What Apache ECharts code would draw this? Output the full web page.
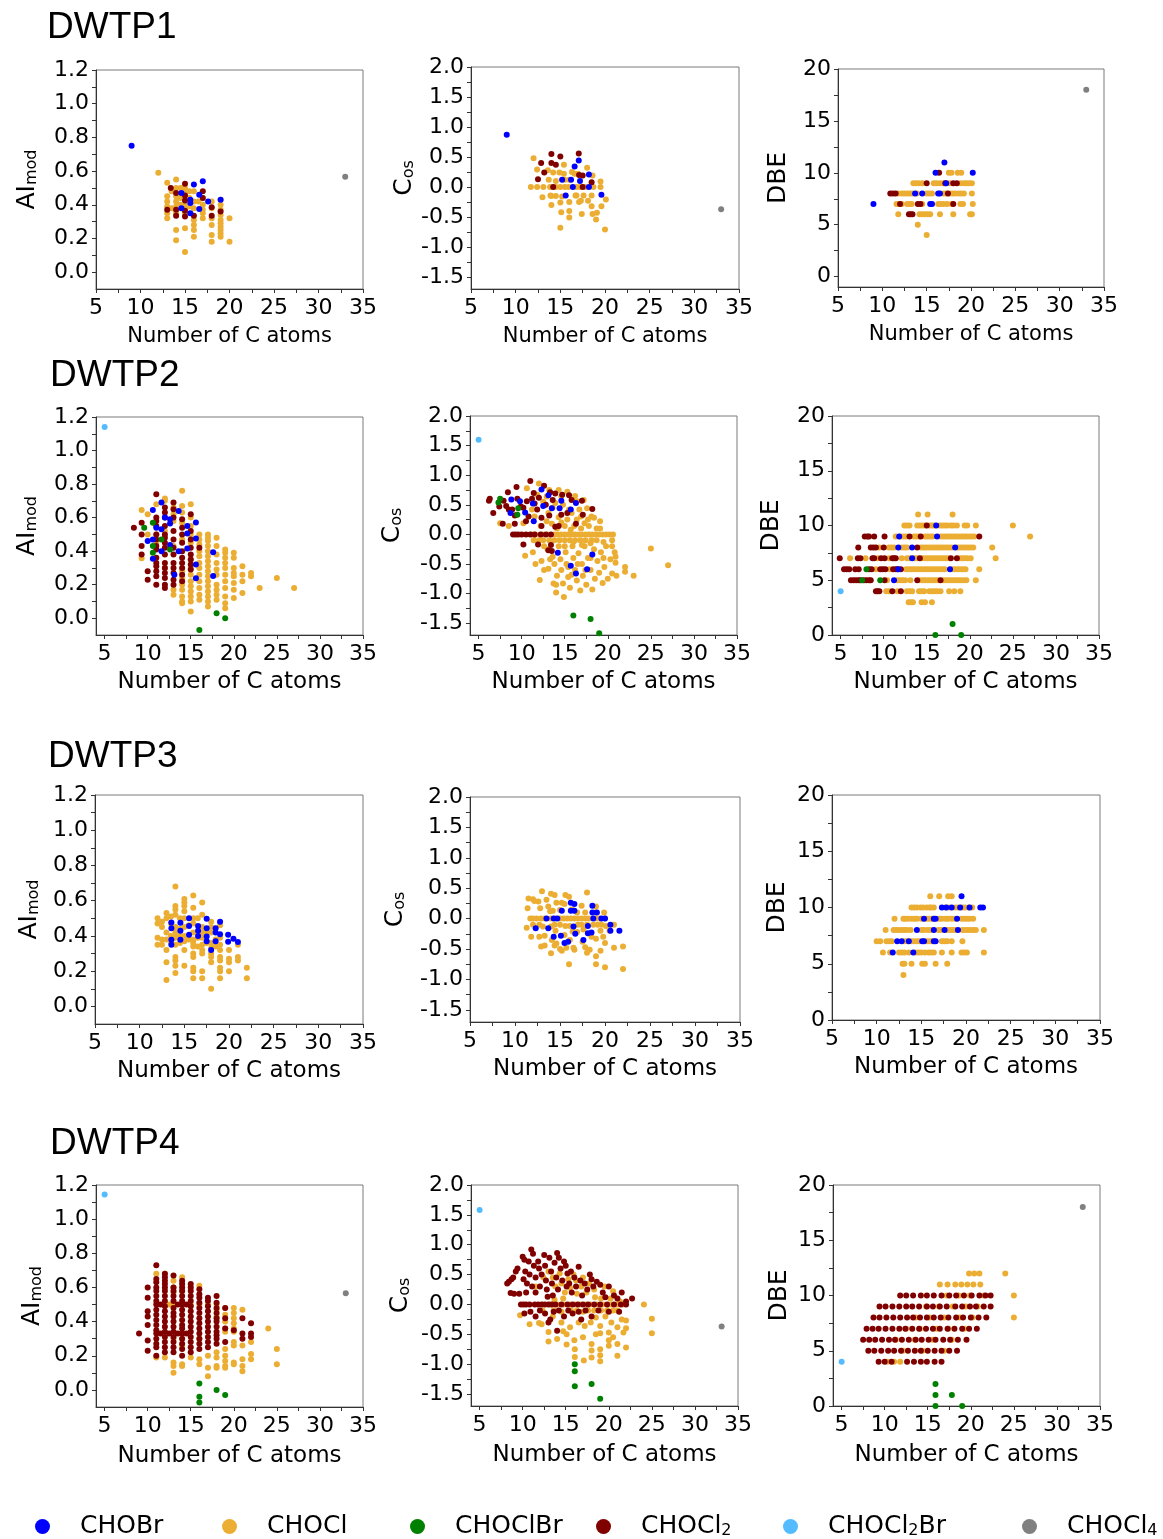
<!DOCTYPE html>
<html>
<head>
<meta charset="utf-8">
<script src="https://cdn.jsdelivr.net/npm/echarts@6/dist/echarts.min.js"></script>
<style>
  html, body { margin: 0; padding: 0; background: #fff; }
  #chart { width: 1163px; height: 1539px; }
</style>
</head>
<body>
<div id="chart"></div>
<script>
// ---------- categories and tick labels ----------
const plants = ['DWTP1', 'DWTP2', 'DWTP3', 'DWTP4'];
const classes = ['CHOBr', 'CHOCl', 'CHOClBr', 'CHOCl2', 'CHOCl2Br', 'CHOCl4'];
const xLabelValues = [5, 10, 15, 20, 25, 30, 35];
const xTickValues = [5, 7.5, 10, 12.5, 15, 17.5, 20, 22.5, 25, 27.5, 30, 32.5, 35];
const aiLabelValues = [0, 0.2, 0.4, 0.6, 0.8, 1.0, 1.2];
const aiTickValues = [0, 0.1, 0.2, 0.3, 0.4, 0.5, 0.6, 0.7, 0.8, 0.9, 1.0, 1.1, 1.2];
const cosLabelValues = [-1.5, -1.0, -0.5, 0, 0.5, 1.0, 1.5, 2.0];
const cosTickValues = [-1.5, -1.25, -1.0, -0.75, -0.5, -0.25, 0, 0.25, 0.5, 0.75, 1.0, 1.25, 1.5, 1.75, 2.0];
const dbeLabelValues = [0, 5, 10, 15, 20];
const dbeTickValues = [0, 2.5, 5, 7.5, 10, 12.5, 15, 17.5, 20];

// ---------- DWTP1 ----------
// AI_mod: [C number, [AI_mod values]]
const p1_ai_CHOCl = [
  [12, [0.59]], [13, [0.53, 0.45, 0.42, 0.39, 0.35, 0.32]], [13.5, [0.48, 0.38]],
  [14, [0.55, 0.5, 0.45, 0.42, 0.39, 0.35, 0.25, 0.19]], [14.5, [0.5, 0.44, 0.4]],
  [15, [0.5, 0.47, 0.4, 0.37, 0.35, 0.26, 0.12]], [15.5, [0.48, 0.44, 0.39]],
  [16, [0.48, 0.42, 0.38, 0.31, 0.28, 0.25, 0.21]], [16.5, [0.42]],
  [17, [0.44, 0.4, 0.37, 0.35, 0.32]], [18, [0.42, 0.38, 0.32, 0.28, 0.22, 0.18]],
  [19, [0.43, 0.4, 0.37, 0.34, 0.31, 0.29, 0.27, 0.25, 0.23, 0.21]], [20, [0.32, 0.18]]
];
const p1_ai_CHOCl2 = [
  [13, [0.37]], [13.4, [0.5]], [14, [0.47, 0.37, 0.335]], [15, [0.525, 0.455, 0.425, 0.365, 0.33]],
  [16, [0.335]], [17, [0.48, 0.44]], [18, [0.385, 0.335]], [19, [0.36]]
];
const p1_ai_CHOBr = [
  [9, [0.75]], [14.6, [0.47, 0.38]], [15.6, [0.43, 0.41, 0.35]], [16, [0.52]],
  [16.6, [0.46, 0.375]], [17, [0.54]], [17.6, [0.42]], [19, [0.43]]
];
const p1_ai_CHOCl4 = [[33, [0.566]]];

// C_os: [C number, C_os]
const p1_cos_CHOCl = [
  [12, 0.48], [12.4, 0.29], [11.7, 0], [12.4, 0], [13.1, 0], [13.85, 0], [13, -0.17], [13.7, 0.12],
  [13.6, 0.28], [14.2, 0.24], [14, -0.15], [14, -0.3], [14.5, -0.15], [15, -0.26], [15.1, -0.42],
  [15, -0.68], [15.4, 0.37], [15.4, 0.22], [15, 0], [15.5, 0], [16, -0.25], [16, -0.4], [16, -0.51],
  [16.8, -0.14], [16.8, 0], [16.6, 0.22], [17.1, -0.25], [17.4, -0.45], [18, 0.32], [18.1, -0.23],
  [18.5, -0.14], [18.5, -0.32], [18.6, -0.45], [18.6, 0.19], [19.1, -0.43], [19, -0.54], [19.5, 0.09],
  [19.5, 0], [19.6, -0.32], [20.1, -0.21], [20, -0.71], [18.7, 0], [17.8, 0], [17.2, 0], [15.9, 0],
  [14.5, 0], [16, 0.12], [17, 0.22], [15.5, 0.12], [16.7, -0.14], [17.6, -0.14], [15.2, -0.16],
  [14.5, 0.1], [13.9, -0.14], [14.9, 0.24], [16.3, 0.25], [17.3, -0.23]
];
const p1_cos_CHOCl2 = [
  [14, 0.55], [15, 0.51], [17.06, 0.56], [12.85, 0.4], [14, 0.4], [14.5, 0.37], [13.2, 0.24],
  [12.5, 0.13], [14.2, 0], [17.1, 0.2], [17.5, 0.19], [18.5, 0.08], [17.5, 0]
];
const p1_cos_CHOBr = [
  [9, 0.87], [16.6, 0.34], [17.06, 0.44], [18.2, 0.21], [19.6, -0.13], [15.2, 0.12], [16.2, 0.12],
  [17.2, 0.1], [15.6, -0.14], [16.4, 0], [18.2, 0]
];
const p1_cos_CHOCl4 = [[33, -0.37]];

// DBE: [DBE, [C numbers]]
const p1_dbe_CHOCl = [
  [10, [17.5, 17.8, 18.5, 18.9]],
  [9, [13.5, 13.8, 14.1, 14.5, 15.8, 16.1, 16.5, 16.9, 17.6, 18.8, 19.2, 19.5, 19.8, 20.1]],
  [8, [11.8, 12.2, 12.5, 12.8, 13.1, 13.4, 13.9, 15, 15.3, 15.6, 16.9, 17.2, 17.6, 17.9, 18.2, 18.6, 18.9, 19.2, 20.1]],
  [7, [11.6, 11.9, 12.2, 12.8, 13.1, 13.3, 14.5, 16.3, 16.6, 16.9, 17.3, 17.8, 18.8, 19.1, 20.2]],
  [6, [11.8, 14.2, 14.5, 14.8, 15.1, 15.4, 16.5, 18, 19.9, 20.1]],
  [5, [14]], [4, [15]]
];
const p1_dbe_CHOCl2 = [
  [10, [16.4]], [9, [15, 17.1, 18, 18.4]], [8, [10.9, 11.2, 11.5, 17.4]],
  [7, [12, 14, 14.3, 18]], [6, [13, 13.2, 13.4]]
];
const p1_dbe_CHOBr = [
  [11, [17]], [10, [16, 20.2]], [9, [17.2]], [8, [13.7, 14.5, 16.3, 16.5]], [7, [9, 15.4, 15.6]]
];
const p1_dbe_CHOCl4 = [[18, [33]]];

// ---------- DWTP2 ----------
const p2_ai_CHOCl = [
  [9.3, [0.645, 0.357]], [10, [0.62, 0.5]], [11, [0.68, 0.5, 0.45]], [12, [0.714, 0.7, 0.52, 0.3]],
  [13, [0.66, 0.62, 0.58, 0.43, 0.17, 0.14]],
  [14, [0.76, 0.67, 0.63, 0.57, 0.47, 0.28, 0.24, 0.2, 0.17, 0.13, 0.1, 0.09]],
  [15, [0.68, 0.6, 0.55, 0.5, 0.45, 0.35, 0.3, 0.26, 0.22, 0.19, 0.16, 0.13, 0.1, 0.04]],
  [16, [0.5, 0.47, 0.44, 0.4, 0.37, 0.33, 0.3, 0.26, 0.22, 0.18, 0.14, 0.11]],
  [17, [0.5, 0.48, 0.46, 0.43, 0.4, 0.37, 0.34, 0.31, 0.28, 0.25, 0.22, 0.19, 0.16, 0.13, 0.1, 0.07]],
  [18, [0.48, 0.43, 0.38, 0.33, 0.29, 0.26, 0.2, 0.17, 0.14, 0.11]],
  [19, [0.41, 0.39, 0.36, 0.33, 0.3, 0.26, 0.22, 0.18, 0.13, 0.09, 0.06]],
  [20, [0.39, 0.36, 0.3, 0.27, 0.25, 0.21, 0.17, 0.12]],
  [21, [0.31, 0.26, 0.22, 0.15]], [22, [0.27, 0.25]], [23, [0.18]], [25, [0.24]], [27, [0.18]]
];
const p2_ai_CHOCl2 = [
  [8.4, [0.54]], [9.3, [0.57, 0.5, 0.43, 0.38]], [10, [0.28, 0.23]],
  [11, [0.74, 0.6, 0.58, 0.55, 0.5, 0.47, 0.43, 0.41, 0.36, 0.33, 0.31, 0.28, 0.25, 0.2]],
  [12, [0.66, 0.63, 0.6, 0.55, 0.5, 0.48, 0.45, 0.42, 0.38, 0.33, 0.3, 0.27, 0.24, 0.2, 0.18]],
  [13, [0.69, 0.65, 0.6, 0.52, 0.47, 0.42, 0.38, 0.33, 0.3, 0.27, 0.23, 0.2]],
  [14, [0.59, 0.54, 0.5, 0.45, 0.4, 0.36, 0.33, 0.3, 0.26, 0.22]],
  [15, [0.62, 0.52, 0.47, 0.42, 0.38, 0.35, 0.32, 0.29]], [16, [0.42]]
];
const p2_ai_CHOBr = [
  [10, [0.46]], [10.6, [0.645, 0.47, 0.355]], [11, [0.54]], [11.6, [0.69, 0.53, 0.4]], [12, [0.6]],
  [12.6, [0.59, 0.565, 0.436]], [13.1, [0.26]], [13.6, [0.64, 0.4]], [14.6, [0.55, 0.506, 0.416]],
  [15.6, [0.571, 0.476, 0.32, 0.238]], [17.6, [0.393, 0.252]]
];
const p2_ai_CHOClBr = [
  [9.6, [0.54]], [10.6, [0.57, 0.43, 0.39]], [11.6, [0.47]], [12.6, [0.41]],
  [16, [-0.07]], [18, [0.03]], [19, [0]]
];
const p2_ai_CHOCl2Br = [[5, [1.14]]];

const p2_cos_CHOCl = [
  [7.5, 0.19], [8.5, 0.14], [9.4, 0.33], [10.2, 0.19], [10.6, 0.78], [11.2, 0.42], [11.5, 0.3], [12, 0.86],
  [11.8, 0.67], [12.5, 0.55], [12.9, 0.64], [12.9, 0.22], [13.2, 0.75], [13.6, 0.45], [13.9, 0.53],
  [14.3, 0.75], [14.3, 0.29], [14.6, 0.64], [14.8, 0.5], [15, 0.14], [15.3, 0.72], [15.3, 0.25],
  [15.5, 0.42], [15.8, 0.36], [16.2, 0.65], [16.4, 0.56], [16.4, 0.25], [16.7, 0.42], [16.9, 0.1],
  [17.2, 0.58], [17.3, 0.19], [17.6, 0.44], [17.8, 0.14], [18.1, 0.3], [18.4, 0.28], [18.7, 0.1],
  [19.1, 0.22], [19.1, 0.1], [12.2, 0.14], [13.5, 0.18], [14.1, 0.1], [16.1, 0.14], [15.7, 0.08],
  [14.6, 0.2], [13.1, 0.36], [16.9, 0.3], [17.7, 0.25],
  [11.2, 0], [11.6, 0], [12.4, 0], [13, 0], [13.8, 0], [14.2, 0], [14.6, 0], [15, 0], [15.4, 0], [15.8, 0],
  [16.2, 0], [16.6, 0], [17, 0], [17.4, 0], [17.8, 0], [18.2, 0], [18.6, 0], [19, 0], [19.4, 0], [19.8, 0],
  [20.2, 0], [20.6, 0],
  [11.4, -0.1], [12, -0.1], [12.5, -0.1], [13.2, -0.1], [13.8, -0.1], [14.4, -0.1], [15, -0.1],
  [15.6, -0.1], [16.2, -0.1], [16.8, -0.1], [17.4, -0.1], [18.1, -0.1], [18.7, -0.1],
  [10.4, -0.36], [11.3, -0.3], [11.6, -0.5], [12.3, -0.45], [12.1, -0.77], [12.6, -0.6], [13, -0.25],
  [13.1, -0.58], [13.6, -0.38], [13.7, -0.83], [13.8, -0.5], [14, -0.98], [14.1, -0.7], [14.3, -0.2],
  [14.5, -0.42], [14.6, -0.6], [14.8, -0.83], [14.9, -1.06], [15.1, -0.3], [15.2, -0.5], [15.4, -0.72],
  [15.6, -0.9], [15.9, -0.2], [16, -0.4], [16.2, -0.6], [16.4, -0.78], [16.6, -0.32], [16.8, -0.95],
  [17, -0.5], [17.1, -0.7], [17.3, -0.2], [17.5, -0.85], [17.7, -0.4], [18, -0.6], [18.2, -0.93],
  [18.4, -0.25], [18.5, -0.75], [18.8, -0.45], [19, -0.65], [19.2, -0.3], [19.4, -0.82], [19.6, -0.55],
  [19.8, -0.2], [20, -0.75], [20.3, -0.42], [20.5, -0.66], [20.8, -0.3], [20.9, -0.38], [20.9, -0.48],
  [21, -0.7], [22, -0.55], [22, -0.63], [23, -0.7], [25, -0.24], [27, -0.52], [16, -0.13], [17, -0.18],
  [18, -0.15], [19.5, -0.13], [20.5, -0.1], [20.5, -0.2], [15, -0.2], [12.6, -0.2], [13.3, -0.42],
  [16.5, -0.5], [18, -0.4], [19.5, -0.4], [15.4, -0.55], [17.4, -0.6], [14, -0.85], [15.8, -0.68]
];
const p2_cos_CHOCl2 = [
  [6.2, 0.57], [6.3, 0.6], [6.7, 0.36], [7.4, 0.47], [7.9, 0.57], [8.4, 0.71], [8.2, 0.48], [7.8, 0.18],
  [8.5, 0.42], [8.9, 0.42], [9.4, 0.8], [9.5, 0.6], [9.9, 0.47], [9.2, 0.18], [10.6, 0.56], [11, 0.9],
  [11.2, 0.6], [11.4, 0.7], [11.8, 0.42], [12.3, 0.28], [12.3, 0.14], [13.2, 0.32], [12.6, 0.82],
  [13.3, 0.71], [13.9, 0.69], [13.6, 0.58], [14.7, 0.67], [15.5, 0.66], [14.6, 0.33], [15.3, 0.36],
  [15.8, 0.58], [17, 0.57], [18.2, 0.43], [17.1, 0.33], [16.3, 0.18], [13.9, 0.13], [14.3, 0.14],
  [10.2, 0.45], [10.8, 0.3], [11.5, 0.52], [12, 0.62], [12.8, 0.5], [10.5, 0.22], [9.2, 0.32],
  [9, 0], [9.3, 0], [9.6, 0], [10, 0], [10.5, 0], [11, 0], [11.5, 0], [12.2, 0], [12.8, 0], [13.4, 0],
  [10.2, -0.17], [11.9, -0.17], [13.1, -0.27], [13.5, -0.28], [13.4, -0.18]
];
const p2_cos_CHOBr = [
  [8.8, 0.59], [9.8, 0.56], [8.7, 0.36], [10.4, 0.37], [11.3, 0.52], [11.4, 0.22], [12.3, 0.76],
  [12.5, 0.48], [13.1, 0.66], [13.5, 0.44], [14.6, 0.57], [14.4, 0.44], [16.3, 0.53], [15.7, 0.42],
  [14.2, -0.31], [15.7, -0.53], [16.3, -0.66], [17.6, -0.59], [18.2, -0.34]
];
const p2_cos_CHOClBr = [
  [7.3, 0.54], [7.5, 0.6], [9.5, 0.33], [9.6, 0.44], [16, -1.37], [18, -1.43], [19, -1.67]
];
const p2_cos_CHOCl2Br = [[5, 1.6]];

const p2_dbe_CHOCl = [
  [11, [14, 15.1, 18]],
  [10, [12.4, 12.7, 13, 13.9, 14.2, 14.5, 14.8, 15.3, 15.6, 15.9, 16.5, 16.8, 17.1, 17.4, 17.8, 18.1, 18.5, 19.4, 19.7, 20.7, 25]],
  [9, [11.4, 12, 12.3, 12.6, 13.5, 13.8, 14.1, 14.8, 15.1, 15.4, 15.7, 16.6, 16.9, 17.2, 17.5, 17.8, 18.1, 18.4, 18.7, 19, 19.3, 19.6, 19.9, 20.2, 20.5, 27]],
  [8, [9.5, 10.6, 10.9, 11.2, 12.1, 12.4, 12.7, 14.3, 14.6, 14.9, 15.2, 15.5, 15.8, 16.1, 16.4, 16.7, 17, 17.3, 17.6, 17.9, 18.6, 18.9, 19.2, 19.5, 19.8, 20.1, 20.4, 22.6]],
  [7, [6.1, 7.9, 9.3, 10.6, 12.1, 12.7, 13, 13.6, 13.9, 14.5, 14.8, 15.1, 15.4, 15.7, 16, 16.3, 16.6, 16.9, 17.2, 17.5, 18.8, 19.1, 19.4, 19.7, 20.1, 23]],
  [6, [9.1, 10.7, 12.6, 12.9, 13.2, 13.5, 13.8, 14.1, 14.4, 14.7, 15, 15.3, 15.6, 15.9, 16.2, 16.5, 16.8, 17.1, 18, 18.3, 18.6, 18.9, 19.2, 19.5, 21.1]],
  [5, [10.4, 11.6, 11.9, 12.2, 12.5, 13.1, 14.2, 14.5, 14.8, 15.1, 15.4, 15.7, 16, 16.3, 16.9, 17.2, 17.5, 17.8, 18.1, 18.4, 18.7, 19, 19.3, 19.6, 20.7]],
  [4, [10.3, 10.6, 11.6, 12.7, 13, 13.3, 14.1, 14.4, 14.7, 15.3, 15.6, 15.9, 16.2, 16.6, 17.6, 18.2, 18.9]],
  [3, [12.9, 13.2, 13.4, 14.4, 14.8, 15.6]]
];
const p2_dbe_CHOCl2 = [
  [10, [15]], [9, [7.8, 8.1, 8.3, 8.9, 10.1, 13, 14.3, 21.1]], [8, [7.05, 8.5, 8.8, 9.1, 10, 13.9]],
  [7, [4.9, 7, 7.3, 8.7, 8.9, 9.7, 10.1, 11, 11.2, 11.4, 14.2, 17.8, 18.5]],
  [6, [5.4, 5.7, 6, 6.7, 7.1, 8.3, 8.6, 9.6, 9.9, 10.2, 11.1, 11.4, 11.6, 12]],
  [5, [6.2, 6.5, 6.8, 7.1, 7.3, 7.7, 8, 8.3, 8.5, 10.1, 13.9, 16.6]], [4, [9.1, 9.3, 9.5, 11, 12]]
];
const p2_dbe_CHOBr = [
  [10, [16.1]], [9, [11.8, 16.2]], [8, [11.7, 13.3, 18.3]], [7, [13.3]], [6, [11.7, 17.7]], [5, [11.2]]
];
const p2_dbe_CHOClBr = [[6, [8]], [5, [7.5, 9.6]], [1, [18]], [0, [16, 19]]];
const p2_dbe_CHOCl2Br = [[4, [5]]];

// ---------- DWTP3 ----------
const p3_ai_CHOCl = [
  [12, [0.5, 0.47, 0.39, 0.35]], [12.5, [0.48, 0.45, 0.38, 0.35]],
  [13, [0.53, 0.5, 0.42, 0.38, 0.32, 0.25, 0.15]], [13.5, [0.51, 0.47, 0.4, 0.36]],
  [14, [0.68, 0.57, 0.55, 0.52, 0.45, 0.42, 0.39, 0.35, 0.28, 0.26, 0.23, 0.19]], [14.5, [0.5, 0.44, 0.4, 0.36]],
  [15, [0.61, 0.59, 0.57, 0.54, 0.5, 0.45, 0.4, 0.37, 0.32, 0.23]], [15.5, [0.46, 0.38]],
  [16, [0.63, 0.56, 0.5, 0.47, 0.42, 0.38, 0.36, 0.34, 0.3, 0.28, 0.22, 0.2, 0.16]], [16.5, [0.5, 0.39, 0.34]],
  [17, [0.59, 0.52, 0.45, 0.42, 0.39, 0.35, 0.32, 0.3, 0.2, 0.16]], [17.5, [0.42, 0.36]],
  [18, [0.48, 0.45, 0.42, 0.36, 0.33, 0.3, 0.28, 0.25, 0.1]], [18.5, [0.38, 0.34]],
  [19, [0.46, 0.39, 0.35, 0.32, 0.28, 0.26, 0.22, 0.2, 0.16]], [20, [0.32, 0.27, 0.25, 0.2]],
  [21, [0.35, 0.28, 0.26]], [22, [0.22, 0.16]]
];
const p3_ai_CHOBr = [
  [13.55, [0.476, 0.444, 0.378, 0.35]], [14.56, [0.475, 0.43, 0.378]], [15.53, [0.5, 0.457, 0.406]],
  [16.54, [0.457, 0.43, 0.4]], [17.5, [0.497, 0.444, 0.397, 0.37]], [18, [0.32]],
  [18.5, [0.444, 0.42, 0.37]], [19, [0.48, 0.41]], [19.9, [0.406, 0.367]], [20.5, [0.384]], [21, [0.365]]
];

const p3_cos_CHOCl = [
  [13, 0.45], [11.5, 0.33], [12.15, 0.29], [12.6, 0.28], [14, 0.41], [14.4, 0.39], [15.6, 0.39], [16, 0.36],
  [18, 0.43], [13.5, 0.31], [13.7, 0.2], [12.8, 0.17], [11.4, 0.17], [15.2, 0.26], [15.5, 0.24], [16.3, 0.15],
  [17.4, 0.21], [19, 0.2], [19.9, 0.1], [15, 0.14], [14.2, 0.13], [13.9, 0.12], [17.8, 0.1], [18.9, 0.1],
  [16.9, 0.1], [14.6, 0.26], [12, 0.32],
  [11.7, 0], [12, 0], [12.4, 0], [12.9, 0], [13.3, 0], [14, 0], [14.5, 0], [15, 0], [15.4, 0], [15.8, 0],
  [16.2, 0], [16.6, 0], [17, 0], [17.4, 0], [17.8, 0], [18.2, 0], [19, 0], [19.4, 0], [20, 0],
  [11.3, -0.15], [12, -0.1], [12.7, -0.1], [13.1, -0.13], [14, -0.13], [14.4, -0.1], [15, -0.1], [15.6, -0.12],
  [16.1, -0.12], [17, -0.1], [17.4, -0.1], [18, -0.1], [18.7, -0.1], [19.2, -0.1], [19.6, -0.1], [20.1, -0.12],
  [21, -0.1],
  [11.8, -0.3], [12.7, -0.3], [13.3, -0.28], [14.5, -0.2], [15.5, -0.27], [16.4, -0.21], [16.9, -0.22],
  [17.6, -0.18], [18.5, -0.3], [19.5, -0.2], [19.8, -0.3], [20.5, -0.2], [14.1, -0.35], [16.1, -0.35],
  [17.5, -0.38], [19, -0.33],
  [12.9, -0.46], [13.3, -0.44], [14, -0.57], [14.6, -0.41], [14.4, -0.44], [15.2, -0.53], [15.7, -0.48],
  [16.5, -0.48], [16.6, -0.51], [18, -0.56], [18.3, -0.51], [17.8, -0.47], [19, -0.62], [19, -0.75],
  [19.5, -0.53], [20, -0.4], [20, -0.8], [21, -0.48], [22, -0.46], [22, -0.83], [16, -0.75], [15, -0.5]
];
const p3_cos_CHOBr = [
  [16.2, 0.26], [16.6, 0.24], [16.2, 0.13], [16.6, 0.13], [18.6, 0.21], [18.6, 0.1], [19.1, 0.1], [15.2, 0.13],
  [12.3, -0.16], [13.7, -0.16], [14.3, -0.3], [15.1, -0.28], [15.5, -0.4], [15.9, -0.38], [16.5, -0.13],
  [16.7, -0.25], [17.6, -0.35], [18.1, -0.24], [18.5, -0.23], [20.6, -0.1], [20.6, -0.2], [21.6, -0.2],
  [18.1, -0.12], [13.5, 0], [14.3, 0], [14.7, 0], [18.7, 0], [19.6, 0], [20, 0]
];

const p3_dbe_CHOCl = [
  [11, [16, 17, 18, 18.4]],
  [10, [13.9, 14.2, 14.5, 14.9, 15.2, 15.6, 15.9, 16.1, 16.4, 17.7, 18.1, 18.8, 19.1, 19.6, 19.9, 20.3, 20.7]],
  [9, [12, 13, 13.2, 13.5, 13.9, 14.2, 14.5, 15, 15.6, 15.9, 16.2, 17, 17.3, 17.7, 18, 18.4, 18.8, 19.5, 19.8, 20.1, 20.4, 20.8]],
  [8, [11, 11.9, 12.2, 12.5, 12.8, 13.1, 13.4, 13.8, 15, 15.3, 15.7, 16, 16.9, 17.2, 17.9, 18.2, 18.5, 18.8, 19.6, 19.9, 20.2, 20.5, 20.8, 21.1, 22]],
  [7, [10, 10.4, 11.1, 11.4, 11.7, 13.1, 13.4, 13.9, 14.2, 14.5, 14.8, 15.6, 15.9, 16.2, 17.3, 17.6, 17.9, 18.4, 19.6]],
  [6, [10.7, 11.5, 12.5, 12.8, 13.1, 13.6, 14.4, 14.7, 15, 15.4, 15.8, 16.1, 16.4, 17.3, 18.4, 19.5, 19.8, 20.1, 22]],
  [5, [12.9, 13.1, 13.9, 15.1, 15.4, 16.6, 17.9]], [4, [13]]
];
const p3_dbe_CHOBr = [
  [11, [19.5]], [10, [17.3, 17.8, 18.4, 19.35, 20.4, 21.6, 21.9]], [9, [15.3, 16.4, 16.6, 19]],
  [8, [14.5, 16.4, 17.6, 19.1]], [7, [12.3, 12.8, 13.6, 15.1, 15.3, 16.4, 16.6]], [6, [11.8, 14.1]]
];

// ---------- DWTP4 ----------
const p4_ai_CHOCl = [
  [11, [0.68, 0.19]], [12, [0.68, 0.19]], [12.5, [0.5]], [13, [0.64, 0.6, 0.57, 0.5, 0.3, 0.16, 0.14, 0.1]],
  [14, [0.66, 0.58, 0.3, 0.26, 0.15, 0.14]], [15, [0.5, 0.19]], [16, [0.61, 0.5, 0.3, 0.18, 0.15]],
  [17, [0.5, 0.2, 0.13, 0.08]], [18, [0.5, 0.47, 0.43, 0.22, 0.19, 0.14, 0.13]],
  [19, [0.48, 0.44, 0.4, 0.36, 0.34, 0.24, 0.2, 0.17, 0.14, 0.13]],
  [20, [0.48, 0.45, 0.42, 0.39, 0.36, 0.34, 0.28, 0.26, 0.16, 0.15]],
  [21, [0.47, 0.26, 0.18, 0.14, 0.11]], [22, [0.28, 0.21, 0.18]], [24, [0.36]], [25, [0.24, 0.15]]
];
const p4_ai_CHOCl2 = [
  [9, [0.33]], [10, [0.6, 0.54, 0.46, 0.43, 0.38, 0.29, 0.23]],
  [11, [0.73, 0.65, 0.63, 0.6, 0.58, 0.55, 0.52, 0.5, 0.47, 0.44, 0.41, 0.38, 0.35, 0.33, 0.3, 0.27, 0.25, 0.2]],
  [11.5, [0.5, 0.33]],
  [12, [0.68, 0.66, 0.64, 0.62, 0.6, 0.58, 0.55, 0.52, 0.49, 0.46, 0.43, 0.4, 0.37, 0.34, 0.31, 0.28, 0.25, 0.22]],
  [12.5, [0.33]],
  [13, [0.67, 0.6, 0.58, 0.55, 0.52, 0.48, 0.45, 0.43, 0.4, 0.37, 0.34, 0.31, 0.28, 0.25, 0.22]],
  [13.5, [0.5, 0.33]],
  [14, [0.64, 0.62, 0.6, 0.58, 0.55, 0.52, 0.5, 0.47, 0.44, 0.41, 0.38, 0.36, 0.33, 0.3, 0.27, 0.24, 0.2]],
  [14.5, [0.5, 0.33]],
  [15, [0.62, 0.6, 0.58, 0.55, 0.52, 0.49, 0.46, 0.43, 0.4, 0.37, 0.34, 0.31, 0.28, 0.25, 0.22]],
  [16, [0.59, 0.56, 0.54, 0.51, 0.48, 0.45, 0.42, 0.39, 0.36, 0.33, 0.3, 0.27, 0.24]],
  [17, [0.54, 0.52, 0.49, 0.46, 0.43, 0.4, 0.37, 0.34, 0.31, 0.28, 0.25]],
  [18, [0.55, 0.51, 0.48, 0.45, 0.42, 0.4, 0.37, 0.34, 0.32, 0.3, 0.27]],
  [19, [0.48, 0.42, 0.36, 0.28]], [20, [0.35]], [21, [0.42, 0.33, 0.3]], [22, [0.39, 0.33, 0.31]]
];
const p4_ai_CHOClBr = [[16, [0.037, -0.04, -0.074]], [18, [0]], [19, [-0.03]]];
const p4_ai_CHOCl2Br = [[5, [1.144]]];
const p4_ai_CHOCl4 = [[33, [0.566]]];

const p4_cos_CHOCl = [
  [9.7, -0.18], [10.8, -0.33], [11.9, -0.31], [13, -0.46], [13, -0.62], [14, -0.58], [15.1, -0.67], [15.1, -0.5],
  [16.05, -0.75], [16.05, -0.88], [17.1, -0.94], [18, -0.66], [18, -0.77], [18, -0.89], [19, -0.75], [19, -0.85],
  [19, -0.95], [19, -0.48], [19, -0.36], [20, -0.6], [20, -0.69], [20, -0.47], [21, -0.66], [21, -0.86],
  [21, -0.38], [22, -0.27], [22, -0.4], [22, -0.72], [21.7, -0.47], [24.07, 0], [25, -0.24], [25, -0.48],
  [11.5, 0.3], [12.4, 0.45], [13, 0.55], [13.5, 0.45], [13.8, 0.3], [14.3, 0.52], [14.5, 0.35], [14.9, 0.2],
  [15.3, 0.42], [15.5, 0.28], [15.9, 0.5], [16.2, 0.4], [16.3, 0.18], [16.8, 0.3], [17, 0.45], [17.4, 0.2],
  [17.7, 0.35], [18.3, 0.25], [18.4, 0.12], [19.1, 0.1], [19.5, 0.3], [20.2, 0.1], [20.5, 0.22], [21.3, 0.05],
  [14.7, 0.1], [13.7, 0.08],
  [12.4, 0], [13.2, 0], [14, 0], [14.8, 0], [15.5, 0], [16.1, 0], [16.7, 0], [17.3, 0], [17.9, 0], [18.6, 0],
  [19.3, 0], [20, 0], [20.3, 0], [20.9, 0], [21.7, 0],
  [12.3, -0.1], [13.6, -0.1], [14.5, -0.12], [15.6, -0.1], [16.3, -0.1], [17, -0.12], [17.6, -0.1], [18.3, -0.1],
  [19.1, -0.1], [19.8, -0.1], [20.5, -0.1], [21, -0.1],
  [12.2, -0.33], [13.5, -0.2], [14.5, -0.3], [15.5, -0.38], [16.5, -0.3], [17.2, -0.36], [17.9, -0.3],
  [18.5, -0.22], [19.6, -0.2], [20.3, -0.3], [21.5, -0.25], [16, -0.6], [17, -0.55], [18.5, -0.5],
  [20.5, -0.55], [14.7, -0.45]
];
const p4_cos_CHOCl2 = [
  [8.2, 0.35], [8.4, 0.38], [8.7, 0.42], [8.9, 0.45], [9.2, 0.55], [9.4, 0.6], [9.6, 0.18], [9, 0.18],
  [8.6, 0.19], [10, 0.8], [10.2, 0.75], [10.3, 0.55], [10.1, 0.42], [10.5, 0.35], [10.4, 0.2], [10.7, 0.72],
  [10.8, 0.5], [11, 0.92], [11.2, 0.85], [11.3, 0.65], [11.1, 0.3], [11.5, 0.45], [11.5, 0.2], [11.8, 0.72],
  [11.9, 0.6], [12, 0.3], [12.2, 0.5], [12.5, 0.83], [12.6, 0.65], [12.7, 0.4], [12.8, 0.25], [12.9, 0.13],
  [13.1, 0.78], [13.3, 0.55], [13.4, 0.35], [13.5, 0.15], [13.7, 0.7], [13.9, 0.45], [14, 0.86], [14.2, 0.78],
  [14.1, 0.25], [14.4, 0.6], [14.6, 0.4], [14.8, 0.72], [15, 0.65], [15.1, 0.3], [15.2, 0.52], [15.4, 0.35],
  [15.6, 0.55], [15.7, 0.2], [16, 0.45], [16.2, 0.3], [16.5, 0.63], [16.7, 0.4], [16.9, 0.15], [17.2, 0.35],
  [17.5, 0.25], [17.8, 0.5], [18, 0.42], [18.2, 0.3], [18.6, 0.38], [19, 0.33], [19.3, 0.2], [19.6, 0.12],
  [20, 0.3], [20.6, 0.15], [21, 0.1], [21.5, 0.2], [22, 0.05], [22.7, 0.1],
  [9.8, 0], [10.1, 0], [10.4, 0], [10.8, 0], [11.4, 0], [11.8, 0], [12.2, 0], [12.6, 0], [13, 0], [13.4, 0],
  [13.8, 0], [14.5, 0], [15.2, 0], [15.8, 0], [16.4, 0], [17, 0], [17.6, 0], [18.3, 0], [19, 0], [19.8, 0],
  [20.6, 0], [21.4, 0], [22, 0],
  [10.2, -0.15], [10.9, -0.12], [11.5, -0.2], [12, -0.1], [12.6, -0.15], [13, -0.3], [13.2, -0.25],
  [13.6, -0.12], [14, -0.44], [14.2, -0.1], [14.8, -0.2], [15.3, -0.1], [15.8, -0.15], [16.5, -0.12],
  [16.8, -0.25], [17.3, -0.1], [18, -0.2], [18.8, -0.1], [20, -0.12], [21.2, -0.12]
];
const p4_cos_CHOClBr = [[16.05, -1.0], [16.05, -1.12], [16.05, -1.37], [18, -1.33], [19, -1.58]];
const p4_cos_CHOCl2Br = [[5, 1.58]];
const p4_cos_CHOCl4 = [[33.1, -0.37]];

const p4_dbe_CHOCl = [
  [12, [19.8, 20.4, 21, 24]], [11, [16.4, 17.3, 18.2, 18.9, 19.6, 20.3, 21.1]],
  [10, [17.2, 18.6, 19.9, 21.5, 25]], [9, [14.8, 16.3, 17.9, 19.4, 20.8]],
  [8, [13.6, 15.2, 16.9, 18.7, 20.2, 25]], [7, [12.5, 14.1, 16, 17.4, 19.2]],
  [6, [11.3, 13.5, 15.6, 17.8]], [5, [12.1, 14.4, 16.9]], [4, [10.3, 11.1, 11.8]]
];
const p4_dbe_CHOCl2 = [
  [10, [11.8, 12.5, 13.3, 14.2, 14.9, 15.7, 16.6, 17.5, 18.3, 19.2, 20.1, 21, 21.7, 22.3]],
  [9, [9.4, 10.1, 10.9, 11.7, 12.5, 13.2, 14, 14.9, 15.6, 16.4, 17.2, 18.2, 19, 19.9, 20.6, 21.5, 22.3]],
  [8, [8.7, 9.4, 10.2, 11, 11.8, 12.6, 13.3, 14.1, 14.9, 15.7, 16.5, 17.4, 18.3, 19.1, 20, 20.9, 21.8]],
  [7, [7.9, 8.6, 9.3, 10.1, 10.9, 11.7, 12.4, 13.2, 14, 14.8, 15.6, 16.4, 17.3, 18.1, 19, 19.8, 20.7]],
  [6, [7.5, 8.2, 8.9, 9.7, 10.5, 11.2, 12, 12.8, 13.6, 14.3, 15.1, 15.9, 16.8, 17.6, 18.5, 19.5]],
  [5, [8.1, 8.8, 9.6, 10.4, 11.1, 11.9, 12.7, 13.5, 14.2, 15, 15.8, 16.6, 17.5, 18.4]],
  [4, [9.3, 10, 10.8, 12.6, 13.4, 14.2, 14.9, 15.8, 16.6]]
];
const p4_dbe_CHOClBr = [[2, [15.9]], [1, [15.9, 17.8]], [0, [15.9, 19]]];
const p4_dbe_CHOCl2Br = [[4, [5]]];
const p4_dbe_CHOCl4 = [[18, [33]]];

// ---------- reshaping helpers ----------
function fromCols(cols) { const out = []; cols.forEach(([x, ys]) => ys.forEach(y => out.push([x, y]))); return out; }
function fromRows(rows) { const out = []; rows.forEach(([y, xs]) => xs.forEach(x => out.push([x, y]))); return out; }
function fromPairs(pairs) { return pairs.map(p => [p[0], p[1]]); }

// ---------- panel layout ----------
const GRID_RECTS = [
  [[96, 70, 267, 219], [471, 67, 268, 222], [838, 69, 266, 218]],
  [[96, 417, 267, 218], [470, 416, 267, 219], [832, 416, 267, 219]],
  [[95, 795, 268, 229], [470, 797, 270, 225], [832, 795, 268, 225]],
  [[96, 1185, 267, 222], [471, 1185, 267, 221], [833, 1185, 267, 221]]
];
const X_MIN = [5, 4, 5, 4];
const TITLE_POS = [[47, 9], [50, 357], [48, 738], [50, 1125]];
const X_NAME_SIZE = [21, 23, 23, 23];
const X_NAME_GAP = [37, 36, 36, 38];
const Y_NAME_GAP = [[56, 53, 47], [56, 65, 48], [53, 62, 42], [51, 58, 41]];

const PANELS = [
  { row: 0, kind: 'ai', data: { CHOCl: fromCols(p1_ai_CHOCl), CHOCl2: fromCols(p1_ai_CHOCl2), CHOBr: fromCols(p1_ai_CHOBr), CHOCl4: fromCols(p1_ai_CHOCl4) } },
  { row: 0, kind: 'cos', data: { CHOCl: fromPairs(p1_cos_CHOCl), CHOCl2: fromPairs(p1_cos_CHOCl2), CHOBr: fromPairs(p1_cos_CHOBr), CHOCl4: fromPairs(p1_cos_CHOCl4) } },
  { row: 0, kind: 'dbe', yMin: -1, data: { CHOCl: fromRows(p1_dbe_CHOCl), CHOCl2: fromRows(p1_dbe_CHOCl2), CHOBr: fromRows(p1_dbe_CHOBr), CHOCl4: fromRows(p1_dbe_CHOCl4) } },
  { row: 1, kind: 'ai', data: { CHOCl: fromCols(p2_ai_CHOCl), CHOCl2: fromCols(p2_ai_CHOCl2), CHOBr: fromCols(p2_ai_CHOBr), CHOClBr: fromCols(p2_ai_CHOClBr), CHOCl2Br: fromCols(p2_ai_CHOCl2Br) } },
  { row: 1, kind: 'cos', data: { CHOCl: fromPairs(p2_cos_CHOCl), CHOCl2: fromPairs(p2_cos_CHOCl2), CHOBr: fromPairs(p2_cos_CHOBr), CHOClBr: fromPairs(p2_cos_CHOClBr), CHOCl2Br: fromPairs(p2_cos_CHOCl2Br) } },
  { row: 1, kind: 'dbe', data: { CHOCl: fromRows(p2_dbe_CHOCl), CHOCl2: fromRows(p2_dbe_CHOCl2), CHOBr: fromRows(p2_dbe_CHOBr), CHOClBr: fromRows(p2_dbe_CHOClBr), CHOCl2Br: fromRows(p2_dbe_CHOCl2Br) } },
  { row: 2, kind: 'ai', data: { CHOCl: fromCols(p3_ai_CHOCl), CHOBr: fromCols(p3_ai_CHOBr) } },
  { row: 2, kind: 'cos', data: { CHOCl: fromPairs(p3_cos_CHOCl), CHOBr: fromPairs(p3_cos_CHOBr) } },
  { row: 2, kind: 'dbe', data: { CHOCl: fromRows(p3_dbe_CHOCl), CHOBr: fromRows(p3_dbe_CHOBr) } },
  { row: 3, kind: 'ai', data: { CHOCl: fromCols(p4_ai_CHOCl), CHOCl2: fromCols(p4_ai_CHOCl2), CHOClBr: fromCols(p4_ai_CHOClBr), CHOCl2Br: fromCols(p4_ai_CHOCl2Br), CHOCl4: fromCols(p4_ai_CHOCl4) } },
  { row: 3, kind: 'cos', data: { CHOCl: fromPairs(p4_cos_CHOCl), CHOCl2: fromPairs(p4_cos_CHOCl2), CHOClBr: fromPairs(p4_cos_CHOClBr), CHOCl2Br: fromPairs(p4_cos_CHOCl2Br), CHOCl4: fromPairs(p4_cos_CHOCl4) } },
  { row: 3, kind: 'dbe', data: { CHOCl: fromRows(p4_dbe_CHOCl), CHOCl2: fromRows(p4_dbe_CHOCl2), CHOClBr: fromRows(p4_dbe_CHOClBr), CHOCl2Br: fromRows(p4_dbe_CHOCl2Br), CHOCl4: fromRows(p4_dbe_CHOCl4) } }
];

// ---------- styling ----------
const FONT = '"DejaVu Sans", "Liberation Sans", sans-serif';
const COLORS = {
  CHOBr: '#0000FF', CHOCl: '#EBAE33', CHOClBr: '#008000',
  CHOCl2: '#800000', CHOCl2Br: '#55BBFF', CHOCl4: '#808080'
};
const DRAW_ORDER = ['CHOCl', 'CHOCl2', 'CHOBr', 'CHOClBr', 'CHOCl2Br', 'CHOCl4'];
const AXIS_COLOR = '#333';

const Y_SPEC = {
  ai:  { min: -0.1, max: 1.2, labels: aiLabelValues, ticks: aiTickValues, fmt: v => v.toFixed(1), name: '{m|AI}{s|mod}' },
  cos: { min: -1.7, max: 2.0, labels: cosLabelValues, ticks: cosTickValues, fmt: v => v.toFixed(1), name: '{m|C}{s|os}' },
  dbe: { min: 0, max: 20, labels: dbeLabelValues, ticks: dbeTickValues, fmt: v => String(v), name: '{m|DBE}' }
};

const grids = [], xAxes = [], yAxes = [], series = [];
PANELS.forEach((p, i) => {
  const col = i % 3;
  const [l, t, w, h] = GRID_RECTS[p.row][col];
  grids.push({ left: l, top: t, width: w, height: h, show: true, borderColor: '#7a7a7a', borderWidth: 1, outerBoundsMode: 'none' });
  xAxes.push({
    type: 'value', gridIndex: i, min: X_MIN[p.row], max: 35,
    axisLine: { show: true, onZero: false, lineStyle: { color: AXIS_COLOR, width: 1 } },
    axisTick: { show: true, length: 4, customValues: xTickValues, lineStyle: { color: AXIS_COLOR } },
    axisLabel: { customValues: xLabelValues, fontSize: 22, fontFamily: FONT, color: '#000', margin: 8 },
    splitLine: { show: false },
    name: 'Number of C atoms', nameLocation: 'middle', nameGap: X_NAME_GAP[p.row],
    nameTextStyle: { fontSize: X_NAME_SIZE[p.row], fontFamily: FONT, color: '#000' }
  });
  const ys = Y_SPEC[p.kind];
  yAxes.push({
    type: 'value', gridIndex: i, min: p.yMin !== undefined ? p.yMin : ys.min, max: ys.max,
    axisLine: { show: true, onZero: false, lineStyle: { color: AXIS_COLOR, width: 1 } },
    axisTick: { show: true, length: 4, customValues: ys.ticks, lineStyle: { color: AXIS_COLOR } },
    axisLabel: { customValues: ys.labels, formatter: ys.fmt, fontSize: 22, fontFamily: FONT, color: '#000', margin: 7 },
    splitLine: { show: false },
    name: ys.name, nameLocation: 'middle', nameGap: Y_NAME_GAP[p.row][col],
    nameTextStyle: {
      color: '#000', fontFamily: FONT,
      rich: {
        m: { fontSize: 25, fontFamily: FONT, color: '#000' },
        s: { fontSize: 16, fontFamily: FONT, color: '#000', verticalAlign: 'bottom', padding: [9, 0, 0, 0] }
      }
    }
  });
  DRAW_ORDER.forEach(name => {
    if (!p.data[name]) return;
    series.push({
      type: 'scatter', name, xAxisIndex: i, yAxisIndex: i,
      data: p.data[name], symbol: 'circle', symbolSize: 6,
      itemStyle: { color: COLORS[name], opacity: 1 },
      emphasis: { disabled: true }, silent: true, clip: false
    });
  });
});

// ---------- legend ----------
const LEGEND_LEFT = [35, 222, 410, 596, 783, 1022];
const LEGEND_TEXT = {
  CHOBr: '{g|}{t|CHOBr}', CHOCl: '{g|}{t|CHOCl}', CHOClBr: '{g|}{t|CHOClBr}',
  CHOCl2: '{g|}{t|CHOCl}{s|2}', CHOCl2Br: '{g|}{t|CHOCl}{s|2}{t|Br}', CHOCl4: '{g|}{t|CHOCl}{s|4}'
};
const legends = classes.map((name, k) => ({
  data: [name], left: LEGEND_LEFT[k], top: 1514, icon: 'circle', itemWidth: 15, itemHeight: 15,
  padding: 0, selectedMode: false,
  formatter: n => LEGEND_TEXT[n],
  textStyle: {
    color: '#000', fontFamily: FONT, fontSize: 25,
    rich: {
      g: { width: 25 },
      t: { fontSize: 25, fontFamily: FONT, color: '#000' },
      s: { fontSize: 16, fontFamily: FONT, color: '#000', verticalAlign: 'bottom', padding: [9, 0, 0, 0] }
    }
  }
}));

const titles = plants.map((txt, r) => ({
  text: txt, left: TITLE_POS[r][0], top: TITLE_POS[r][1], padding: 0,
  textStyle: { fontSize: 37, fontWeight: 'normal', color: '#000', fontFamily: '"Liberation Sans", Arial, sans-serif' }
}));

const chart = echarts.init(document.getElementById('chart'), null, { renderer: 'canvas' });
chart.setOption({
  animation: false,
  backgroundColor: '#fff',
  title: titles,
  legend: legends,
  grid: grids,
  xAxis: xAxes,
  yAxis: yAxes,
  series: series
});
</script>
</body>
</html>
